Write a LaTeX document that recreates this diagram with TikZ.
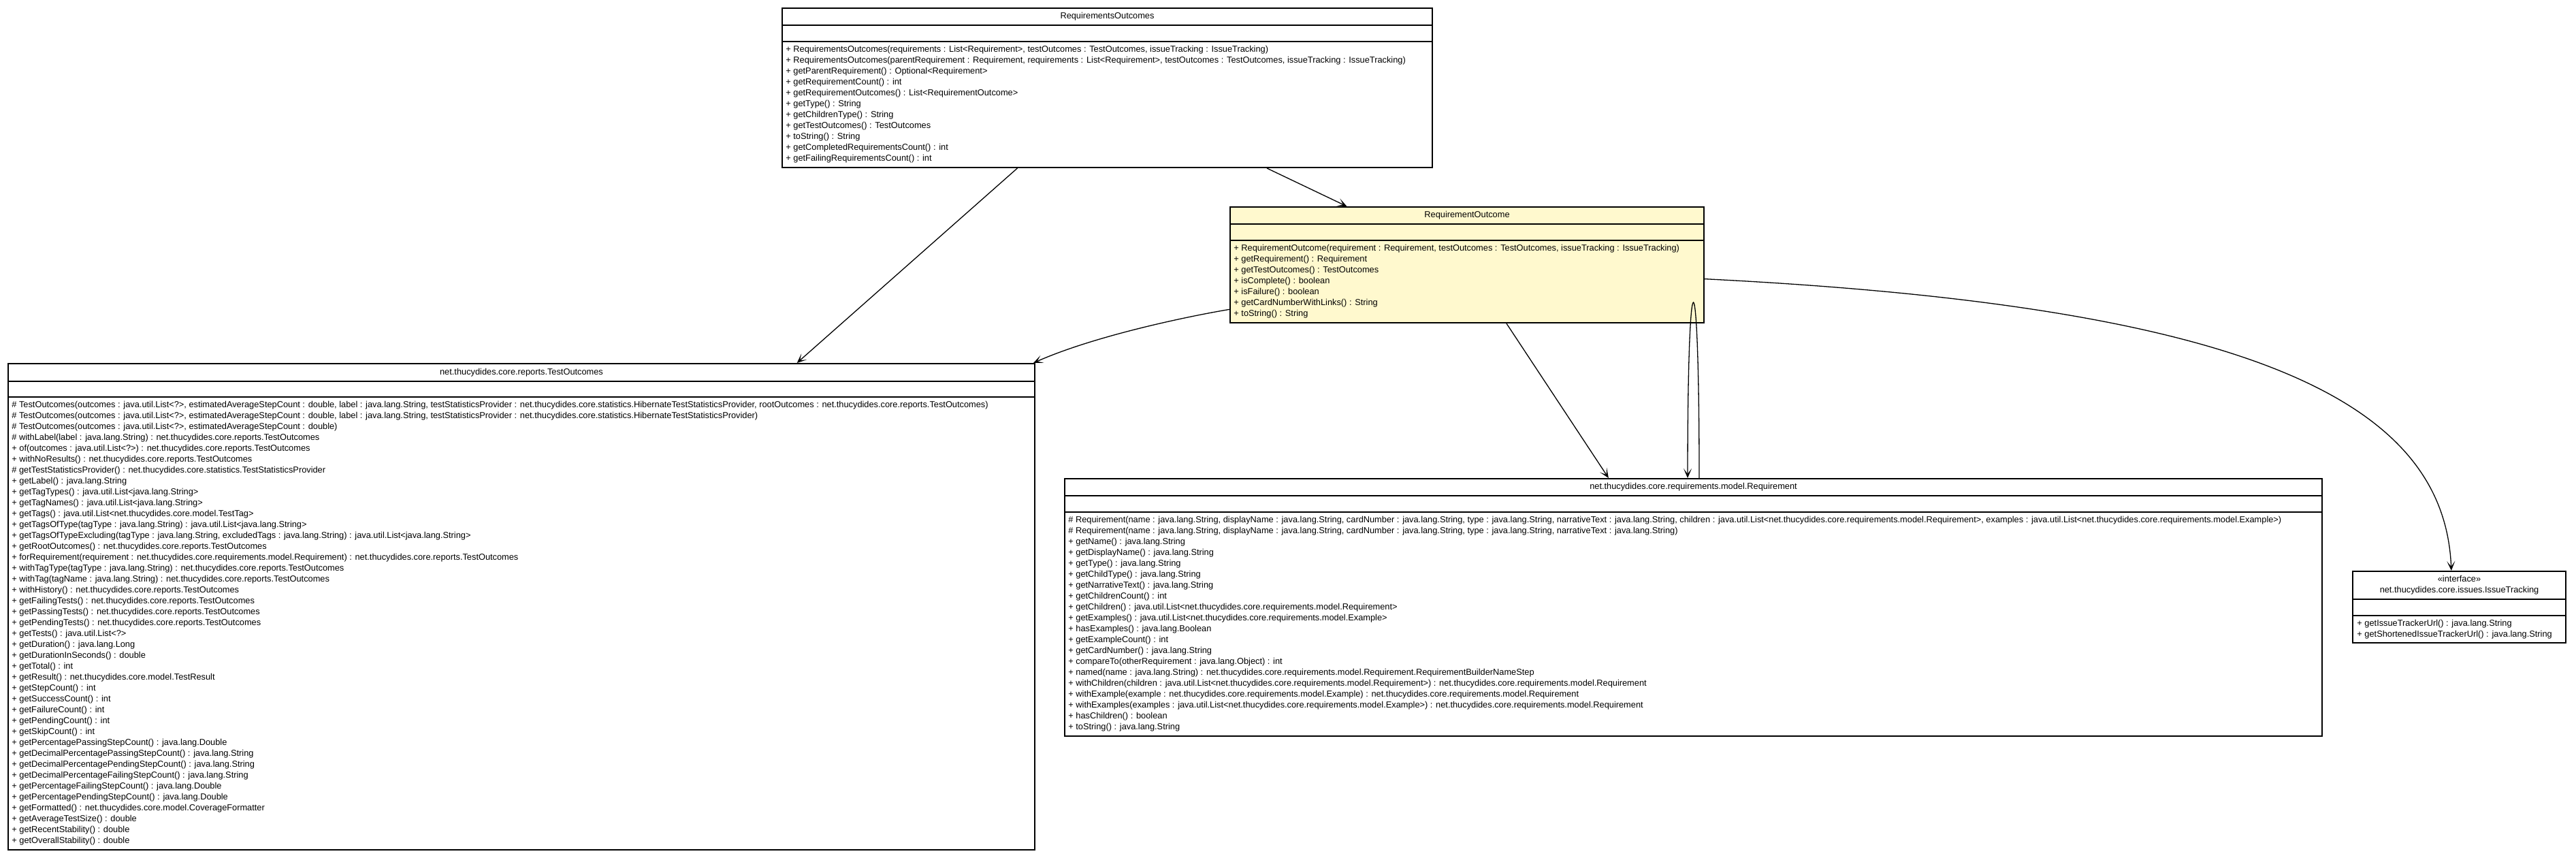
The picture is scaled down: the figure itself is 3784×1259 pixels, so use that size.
\documentclass[tikz,border=0pt]{standalone}
\usepackage{fontspec}
\setmainfont{Liberation Sans}
\usetikzlibrary{arrows.meta,calc,fit}
\definecolor{roFill}{RGB}{255,249,206}
\tikzset{
  box/.style={draw=black, line width=1pt, inner sep=0pt},
  sepline/.style={draw=black, line width=1pt},
  txt/.style={inner sep=0pt, align=left, font=\fontsize{6.4}{8}\selectfont},
  ttl/.style={inner sep=0pt, align=center, font=\fontsize{6.4}{8}\selectfont},
  conn/.style={draw=black, line width=0.65pt, -{Stealth[length=7pt,width=6pt,inset=4pt]}},
  plain/.style={draw=black, line width=0.65pt}
}
\begin{document}
\begin{tikzpicture}[x=0.5pt,y=-0.5pt]
\useasboundingbox[fill=white] (0,0) rectangle (3784,1259);

% ---------- RequirementsOutcomes ----------
\node[box, fit={(1149,12) (2104,246)}] (ros) {};
\draw[sepline] (1149,37) -- (2104,37) (1149,61) -- (2104,61);
\node[ttl] (ros-t) at (1626.5,24.5) {RequirementsOutcomes};
\node[txt, anchor=north west] (ros-m) at (1154,67) {%
+ RequirementsOutcomes(requirements : List<Requirement>, testOutcomes : TestOutcomes, issueTracking : IssueTracking)\\
+ RequirementsOutcomes(parentRequirement : Requirement, requirements : List<Requirement>, testOutcomes : TestOutcomes, issueTracking : IssueTracking)\\
+ getParentRequirement() : Optional<Requirement>\\
+ getRequirementCount() : int\\
+ getRequirementOutcomes() : List<RequirementOutcome>\\
+ getType() : String\\
+ getChildrenType() : String\\
+ getTestOutcomes() : TestOutcomes\\
+ toString() : String\\
+ getCompletedRequirementsCount() : int\\
+ getFailingRequirementsCount() : int};

% ---------- RequirementOutcome ----------
\node[box, fill=roFill, fit={(1807,304) (2503,474)}] (ro) {};
\draw[sepline] (1807,329) -- (2503,329) (1807,353) -- (2503,353);
\node[ttl] (ro-t) at (2155,316.5) {RequirementOutcome};
\node[txt, anchor=north west] (ro-m) at (1812,359) {%
+ RequirementOutcome(requirement : Requirement, testOutcomes : TestOutcomes, issueTracking : IssueTracking)\\
+ getRequirement() : Requirement\\
+ getTestOutcomes() : TestOutcomes\\
+ isComplete() : boolean\\
+ isFailure() : boolean\\
+ getCardNumberWithLinks() : String\\
+ toString() : String};

% ---------- TestOutcomes ----------
\node[box, fit={(12,534) (1520,1248)}] (to) {};
\draw[sepline] (12,560) -- (1520,560) (12,583) -- (1520,583);
\node[ttl] (to-t) at (766,547) {net.thucydides.core.reports.TestOutcomes};
\node[txt, anchor=north west] (to-m) at (17,589) {%
\# TestOutcomes(outcomes : java.util.List<?>, estimatedAverageStepCount : double, label : java.lang.String, testStatisticsProvider : net.thucydides.core.statistics.HibernateTestStatisticsProvider, rootOutcomes : net.thucydides.core.reports.TestOutcomes)\\
\# TestOutcomes(outcomes : java.util.List<?>, estimatedAverageStepCount : double, label : java.lang.String, testStatisticsProvider : net.thucydides.core.statistics.HibernateTestStatisticsProvider)\\
\# TestOutcomes(outcomes : java.util.List<?>, estimatedAverageStepCount : double)\\
\# withLabel(label : java.lang.String) : net.thucydides.core.reports.TestOutcomes\\
+ of(outcomes : java.util.List<?>) : net.thucydides.core.reports.TestOutcomes\\
+ withNoResults() : net.thucydides.core.reports.TestOutcomes\\
\# getTestStatisticsProvider() : net.thucydides.core.statistics.TestStatisticsProvider\\
+ getLabel() : java.lang.String\\
+ getTagTypes() : java.util.List<java.lang.String>\\
+ getTagNames() : java.util.List<java.lang.String>\\
+ getTags() : java.util.List<net.thucydides.core.model.TestTag>\\
+ getTagsOfType(tagType : java.lang.String) : java.util.List<java.lang.String>\\
+ getTagsOfTypeExcluding(tagType : java.lang.String, excludedTags : java.lang.String) : java.util.List<java.lang.String>\\
+ getRootOutcomes() : net.thucydides.core.reports.TestOutcomes\\
+ forRequirement(requirement : net.thucydides.core.requirements.model.Requirement) : net.thucydides.core.reports.TestOutcomes\\
+ withTagType(tagType : java.lang.String) : net.thucydides.core.reports.TestOutcomes\\
+ withTag(tagName : java.lang.String) : net.thucydides.core.reports.TestOutcomes\\
+ withHistory() : net.thucydides.core.reports.TestOutcomes\\
+ getFailingTests() : net.thucydides.core.reports.TestOutcomes\\
+ getPassingTests() : net.thucydides.core.reports.TestOutcomes\\
+ getPendingTests() : net.thucydides.core.reports.TestOutcomes\\
+ getTests() : java.util.List<?>\\
+ getDuration() : java.lang.Long\\
+ getDurationInSeconds() : double\\
+ getTotal() : int\\
+ getResult() : net.thucydides.core.model.TestResult\\
+ getStepCount() : int\\
+ getSuccessCount() : int\\
+ getFailureCount() : int\\
+ getPendingCount() : int\\
+ getSkipCount() : int\\
+ getPercentagePassingStepCount() : java.lang.Double\\
+ getDecimalPercentagePassingStepCount() : java.lang.String\\
+ getDecimalPercentagePendingStepCount() : java.lang.String\\
+ getDecimalPercentageFailingStepCount() : java.lang.String\\
+ getPercentageFailingStepCount() : java.lang.Double\\
+ getPercentagePendingStepCount() : java.lang.Double\\
+ getFormatted() : net.thucydides.core.model.CoverageFormatter\\
+ getAverageTestSize() : double\\
+ getRecentStability() : double\\
+ getOverallStability() : double};

% ---------- Requirement ----------
\node[box, fit={(1564,703) (3411,1081)}] (req) {};
\draw[sepline] (1564,728) -- (3411,728) (1564,752) -- (3411,752);
\node[ttl] (req-t) at (2487.5,715.5) {net.thucydides.core.requirements.model.Requirement};
\node[txt, anchor=north west] (req-m) at (1569,758) {%
\# Requirement(name : java.lang.String, displayName : java.lang.String, cardNumber : java.lang.String, type : java.lang.String, narrativeText : java.lang.String, children : java.util.List<net.thucydides.core.requirements.model.Requirement>, examples : java.util.List<net.thucydides.core.requirements.model.Example>)\\
\# Requirement(name : java.lang.String, displayName : java.lang.String, cardNumber : java.lang.String, type : java.lang.String, narrativeText : java.lang.String)\\
+ getName() : java.lang.String\\
+ getDisplayName() : java.lang.String\\
+ getType() : java.lang.String\\
+ getChildType() : java.lang.String\\
+ getNarrativeText() : java.lang.String\\
+ getChildrenCount() : int\\
+ getChildren() : java.util.List<net.thucydides.core.requirements.model.Requirement>\\
+ getExamples() : java.util.List<net.thucydides.core.requirements.model.Example>\\
+ hasExamples() : java.lang.Boolean\\
+ getExampleCount() : int\\
+ getCardNumber() : java.lang.String\\
+ compareTo(otherRequirement : java.lang.Object) : int\\
+ named(name : java.lang.String) : net.thucydides.core.requirements.model.Requirement.RequirementBuilderNameStep\\
+ withChildren(children : java.util.List<net.thucydides.core.requirements.model.Requirement>) : net.thucydides.core.requirements.model.Requirement\\
+ withExample(example : net.thucydides.core.requirements.model.Example) : net.thucydides.core.requirements.model.Requirement\\
+ withExamples(examples : java.util.List<net.thucydides.core.requirements.model.Example>) : net.thucydides.core.requirements.model.Requirement\\
+ hasChildren() : boolean\\
+ toString() : java.lang.String};

% ---------- IssueTracking ----------
\node[box, fit={(3456,839) (3769,944)}] (it) {};
\draw[sepline] (3456,880) -- (3769,880) (3456,904) -- (3769,904);
\node[ttl] (it-t) at (3612.5,859.5) {«interface»\\net.thucydides.core.issues.IssueTracking};
\node[txt, anchor=north west] (it-m) at (3462,910) {%
+ getIssueTrackerUrl() : java.lang.String\\
+ getShortenedIssueTrackerUrl() : java.lang.String};

% ---------- connectors ----------
\draw[conn] ($(ros.south west)!0.745!(ros.south east)$) -- ($(ro.north west)!0.247!(ro.north east)$);
\draw[conn] ($(ros.south west)!0.362!(ros.south east)$) -- ($(to.north west)!0.768!(to.north east)$);
\coordinate (roW) at ($(ro.north west)!0.88!(ro.south west)$);
\draw[conn] (roW) .. controls +(-60,10) and +(90,-40) .. ($(to.north east)+(-3,0)$);
\draw[conn] ($(ro.south west)!0.583!(ro.south east)$) -- ($(req.north west)!0.4326!(req.north east)$);
\draw[conn] ($(req.north west)!0.5046!(req.north east)$) .. controls +(0,-343) and +(0,-343) .. ($(req.north west)!0.4954!(req.north east)$);
\coordinate (roE) at ($(ro.north east)!0.62!(ro.south east)$);
\draw[conn] (roE) .. controls +(800,40) and +(-10,-250) .. ($(it.north west)!0.463!(it.north east)$);
\end{tikzpicture}
\end{document}
